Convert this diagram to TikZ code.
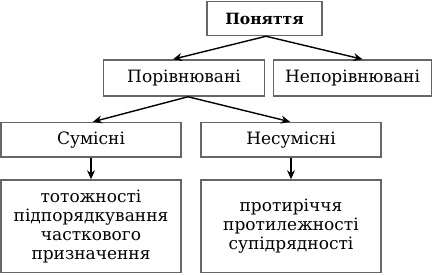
\documentclass[tikz,border=0pt]{standalone}
\usepackage{fontspec}
\setmainfont{DejaVu Serif}
\usetikzlibrary{arrows.meta,calc}
\begin{document}
\begin{tikzpicture}[x=1pt,y=-1pt,
  box/.style={draw=black!60, line width=1.5pt, inner sep=0pt, anchor=center,
    font=\fontsize{17}{19}\selectfont, align=center},
  arr/.style={line width=1.4pt, -{Stealth[length=9pt,width=8pt]}}]
\useasboundingbox (0,0) rectangle (433,274);
\node[box, minimum width=115pt, minimum height=34pt, font=\fontsize{15.5}{19}\selectfont\bfseries] (pn) at (264.5,18.5) {Поняття};
\node[box, minimum width=161pt, minimum height=36pt] (por) at (184,78) {Порівнювані};
\node[box, minimum width=158pt, minimum height=36pt] (nepor) at (352.5,78) {Непорівнювані};
\node[box, minimum width=180pt, minimum height=34.5pt] (sum) at (91,139.75) {Сумісні};
\node[box, minimum width=180pt, minimum height=34.5pt] (nesum) at (291,139.75) {Несумісні};
\node[box, minimum width=180pt, minimum height=92.5pt] (l) at (91,226.25) {тотожності\\підпорядкування\\часткового\\призначення};
\node[box, minimum width=180pt, minimum height=92.5pt] (r) at (291,226.25) {протиріччя\\протилежності\\супідрядності};
\draw[arr] ($(pn.south)+(1.5,0)$) -- ($(por.north)+(-11,0)$);
\draw[arr] ($(pn.south)+(1.5,0)$) -- ($(nepor.north)+(10,0)$);
\draw[arr] ($(por.south)+(4,0)$) -- ($(sum.north)+(2,0)$);
\draw[arr] ($(por.south)+(4,0)$) -- ($(nesum.north)+(-1,0)$);
\draw[arr] (sum.south) -- (l.north);
\draw[arr] (nesum.south) -- (r.north);
\end{tikzpicture}
\end{document}
